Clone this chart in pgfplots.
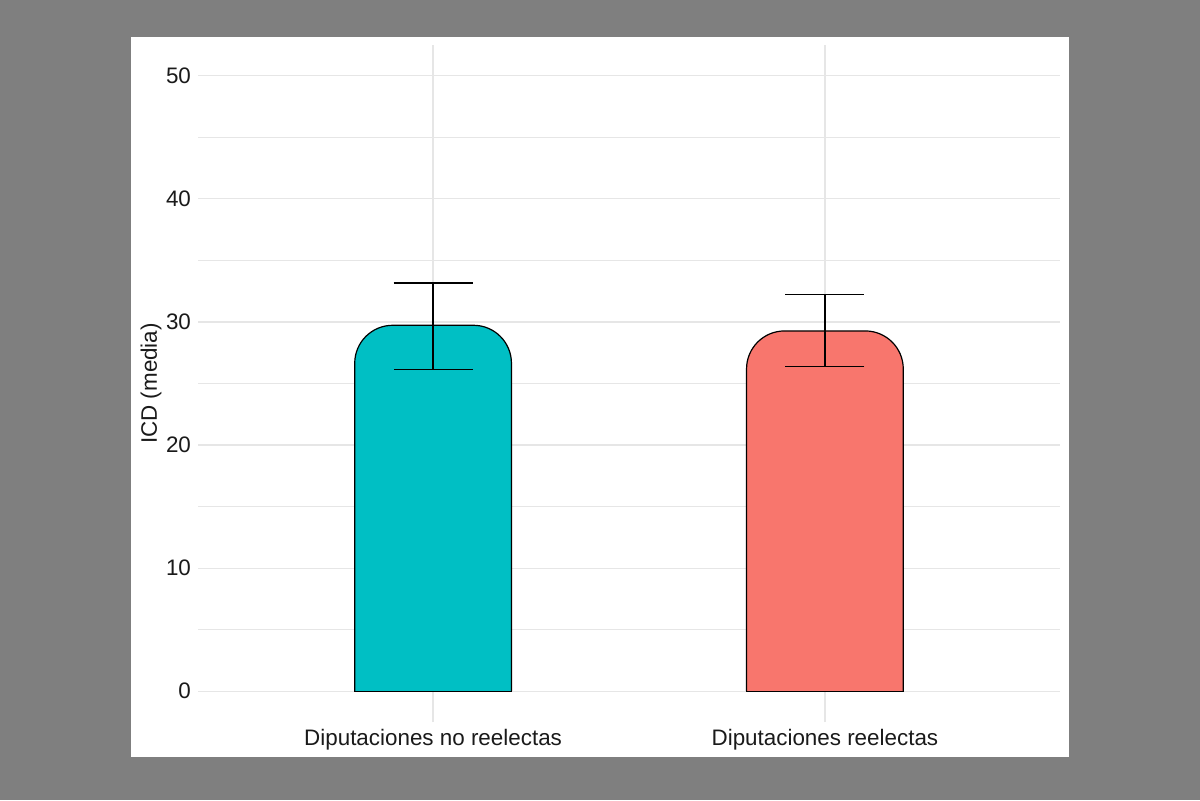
\documentclass[border=0pt]{standalone}
\usepackage{fontspec}
\setmainfont{Liberation Sans}
\usepackage{pgfplots}
\pgfplotsset{compat=1.18}
\definecolor{bgray}{HTML}{7F7F7F}
\definecolor{gridc}{HTML}{E6E6E6}
\definecolor{teal1}{HTML}{00BFC4}
\definecolor{salmon1}{HTML}{F8766D}
\definecolor{txt}{HTML}{1A1A1A}

\begin{document}
\begin{tikzpicture}
  % page background and white panel (1px = 0.5pt)
  \fill[bgray] (0,0) rectangle (600pt,400pt);
  \fill[white] (65.5pt,21.5pt) rectangle (534.5pt,381.5pt);
  \begin{axis}
    [
      at={(99pt,39pt)}, anchor=south west,
      scale only axis, width=431pt, height=338.5pt,
      xmin=-0.6, xmax=1.6, ymin=-2.5, ymax=52.5,
      xtick={0,1},
      xticklabels={Diputaciones no reelectas, Diputaciones reelectas},
      ytick={0,10,...,50}, minor ytick={5,15,...,45},
      xmajorgrids, ymajorgrids, yminorgrids,
      major grid style={gridc, line width=0.6pt},
      minor grid style={gridc, line width=0.4pt},
      axis line style={draw=none},
      tick style={draw=none},
      tick label style={font=\fontsize{11.2}{13}\selectfont, text=txt},
      /pgf/number format/assume math mode=true,
      ylabel={ICD (media)},
      every axis y label/.style={at={(axis description cs:-0.0545,0.5)},
        rotate=90, anchor=center, font=\fontsize{11.2}{13}\selectfont, text=txt},
    ]
    % bars (mean)
    \addplot[fill=teal1, draw=black, line width=0.6pt, rounded corners=19pt]
      coordinates {(-0.2,0) (-0.2,29.73) (0.2,29.73) (0.2,0)};
    \addplot[black, line width=0.6pt, line cap=rect]
      coordinates {(-0.2,0) (0.2,0)};
    \addplot[fill=salmon1, draw=black, line width=0.6pt, rounded corners=19pt]
      coordinates {(0.8,0) (0.8,29.27) (1.2,29.27) (1.2,0)};
    \addplot[black, line width=0.6pt, line cap=rect]
      coordinates {(0.8,0) (1.2,0)};
    % error bars
    \addplot[draw=none, mark=none,
      error bars/.cd, y dir=both, y explicit,
      error bar style={black, line width=0.6pt},
      error mark options={rotate=90, black, line width=0.6pt, mark size=19.75pt}]
      coordinates {
        (0,29.73) += (0,3.44) -= (0,3.57)
        (1,29.27) += (0,2.96) -= (0,2.92)
      };
  \end{axis}
\end{tikzpicture}
\end{document}
